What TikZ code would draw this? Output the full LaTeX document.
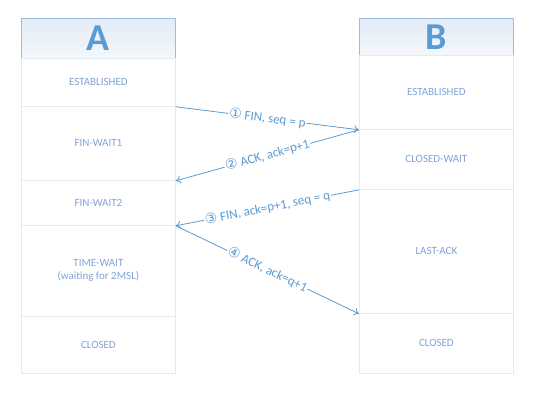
\documentclass[tikz,border=0pt]{standalone}
\usepackage{fontspec}
\setmainfont{Carlito}
\newfontfamily\dvfont{DejaVu Sans}
\usetikzlibrary{arrows.meta}
\definecolor{cellline}{HTML}{E4EAF3}
\definecolor{statecol}{HTML}{7EA3D6}
\definecolor{arrcol}{HTML}{5B9BD5}
\definecolor{headline}{HTML}{9CBBE0}
\definecolor{headtop}{HTML}{E3EBF6}
\definecolor{headbot}{HTML}{F4F7FC}
\newcommand{\circnum}[1]{{\dvfont\fontsize{14}{14}\selectfont #1}}
\begin{document}
\begin{tikzpicture}[x=1pt,y=-1pt,
  cell/.style={draw=cellline, line width=0.8pt, minimum width=154pt, inner sep=0pt, anchor=north west, text=statecol, font=\fontsize{11}{13}\selectfont, align=center},
  head/.style={draw=headline, line width=0.8pt, top color=headtop, bottom color=headbot, minimum width=154pt, inner sep=0pt, anchor=north west, text=arrcol, font=\fontsize{38}{38}\selectfont\bfseries},
  arr/.style={draw=arrcol, line width=0.8pt, -{To[length=5pt,width=8pt]}},
  lab/.style={midway, sloped, fill=white, inner sep=1pt, text=arrcol, font=\fontsize{13}{15}\selectfont}
]
\useasboundingbox (0,0) rectangle (554,403);
% Column A
\node[head, minimum height=40pt] (ah) at (21,18) {A};
\node[cell, minimum height=48pt] (a1) at (21,58) {ESTABLISHED};
\node[cell, minimum height=74pt] (a2) at (21,106) {FIN-WAIT1};
\node[cell, minimum height=45pt] (a3) at (21,180) {FIN-WAIT2};
\node[cell, minimum height=91pt] (a4) at (21,225) {TIME-WAIT\\(waiting for 2MSL)};
\node[cell, minimum height=57pt] (a5) at (21,316) {CLOSED};
% Column B
\node[head, minimum height=37pt] (bh) at (359,18) {B};
\node[cell, minimum height=74pt] (b1) at (359,55) {ESTABLISHED};
\node[cell, minimum height=60pt] (b2) at (359,129) {CLOSED-WAIT};
\node[cell, minimum height=124pt] (b3) at (359,189) {LAST-ACK};
\node[cell, minimum height=60pt] (b4) at (359,313) {CLOSED};
% Messages
\draw[arr] (a1.south east) -- (b1.south west) node[lab] {\circnum{①} FIN, seq = p};
\draw[arr] (b1.south west) -- (a2.south east) node[lab] {\circnum{②} ACK, ack=p+1};
\draw[arr] (b2.south west) -- (a3.south east) node[lab] {\circnum{③} FIN, ack=p+1, seq = q};
\draw[arr] (a3.south east) -- (b3.south west) node[lab] {\circnum{④} ACK, ack=q+1};
\end{tikzpicture}
\end{document}
